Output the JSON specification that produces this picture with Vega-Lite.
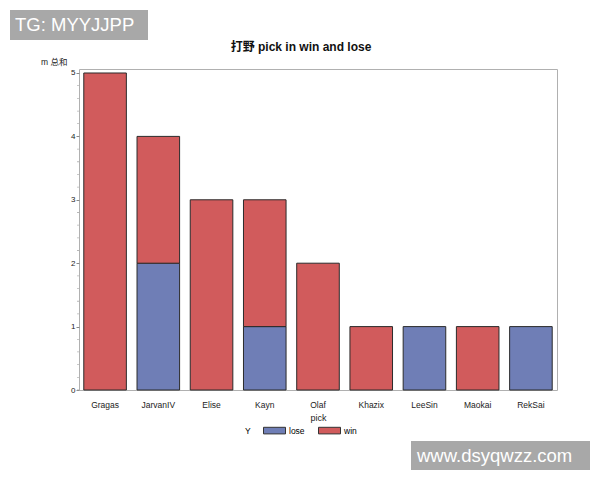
{
  "$schema": "https://vega.github.io/schema/vega-lite/v6.json",
  "autosize": "none",
  "width": 478,
  "height": 321,
  "padding": {"left": 79, "top": 69, "right": 43, "bottom": 90},
  "background": "white",
  "config": {
    "font": "Liberation Sans, Noto Sans CJK SC",
    "view": {"stroke": "#b0b0b0", "strokeWidth": 1},
    "axis": {"labelFont": "Liberation Sans, Noto Sans CJK SC", "titleFont": "Liberation Sans, Noto Sans CJK SC", "labelColor": "#222", "titleColor": "#222", "titleFontWeight": "normal"}
  },
  "title": {
    "text": "打野 pick in win and lose",
    "font": "Liberation Sans, Noto Sans CJK SC",
    "fontSize": 12,
    "fontWeight": "bold",
    "color": "#111",
    "anchor": "middle",
    "dx": -17,
    "offset": -44
  },
  "layer": [
    {
      "data": {
        "values": [
          {"pick": "Gragas", "Y": "win", "m": 5},
          {"pick": "JarvanIV", "Y": "lose", "m": 2},
          {"pick": "JarvanIV", "Y": "win", "m": 2},
          {"pick": "Elise", "Y": "win", "m": 3},
          {"pick": "Kayn", "Y": "lose", "m": 1},
          {"pick": "Kayn", "Y": "win", "m": 2},
          {"pick": "Olaf", "Y": "win", "m": 2},
          {"pick": "Khazix", "Y": "win", "m": 1},
          {"pick": "LeeSin", "Y": "lose", "m": 1},
          {"pick": "Maokai", "Y": "win", "m": 1},
          {"pick": "RekSai", "Y": "lose", "m": 1}
        ]
      },
      "mark": {"type": "bar", "stroke": "#2b2b2b", "strokeWidth": 1},
      "encoding": {
        "x": {
          "field": "pick",
          "type": "nominal",
          "sort": ["Gragas", "JarvanIV", "Elise", "Kayn", "Olaf", "Khazix", "LeeSin", "Maokai", "RekSai"],
          "scale": {"paddingInner": 0.2, "paddingOuter": 0.09},
          "axis": {
            "title": "pick",
            "titleFontSize": 9,
            "titlePadding": 5,
            "labelAngle": 0,
            "labelFontSize": 8.5,
            "labelPadding": 10,
            "ticks": false,
            "domain": false
          }
        },
        "y": {
          "field": "m",
          "type": "quantitative",
          "aggregate": "sum",
          "stack": "zero",
          "scale": {"domain": [0, 5.063], "nice": false, "zero": true},
          "axis": {
            "title": "m 总和",
            "titleAngle": 0,
            "titleAlign": "right",
            "titleBaseline": "middle",
            "titleX": -12,
            "titleY": -8,
            "titleFontSize": 8.5,
            "values": [0, 1, 2, 3, 4, 5],
            "format": "d",
            "labelFontSize": 8,
            "labelPadding": 1,
            "tickSize": 3,
            "tickColor": "#888",
            "domain": false,
            "grid": false
          }
        },
        "order": {"field": "Y", "sort": "ascending"},
        "color": {
          "field": "Y",
          "type": "nominal",
          "scale": {"domain": ["lose", "win"], "range": ["#6f7eb6", "#d15b5c"]},
          "legend": {
            "title": "Y",
            "orient": "none",
            "direction": "horizontal",
            "legendX": 166,
            "legendY": 350,
            "titleOrient": "left",
            "titleAnchor": "middle",
            "titleBaseline": "top",
            "titleFontSize": 8.5,
            "titleFontWeight": "normal",
            "titlePadding": 12,
            "labelFontSize": 8.5,
            "symbolType": "M-1,-0.3H1V0.3H-1Z",
            "symbolSize": 484,
            "symbolStrokeColor": "#333",
            "symbolStrokeWidth": 1,
            "columnPadding": 11,
            "labelOffset": 3
          }
        }
      }
    },
    {
      "data": {"values": [{"v": 0}, {"v": 0.2}, {"v": 0.4}, {"v": 0.6}, {"v": 0.8}, {"v": 1.2}, {"v": 1.4}, {"v": 1.6}, {"v": 1.8}, {"v": 2.2}, {"v": 2.4}, {"v": 2.6}, {"v": 2.8}, {"v": 3.2}, {"v": 3.4}, {"v": 3.6}, {"v": 3.8}, {"v": 4.2}, {"v": 4.4}, {"v": 4.6}, {"v": 4.8}]},
      "mark": {"type": "tick", "orient": "horizontal", "size": 2, "color": "#999", "thickness": 0.8, "xOffset": -1},
      "encoding": {
        "y": {"field": "v", "type": "quantitative"},
        "x": {"value": 0}
      }
    },
    {
      "data": {"values": [{"label": "TG: MYYJJPP"}]},
      "mark": {"type": "rect", "color": "#a8a8a8"},
      "encoding": {"x": {"value": -69}, "x2": {"value": 69}, "y": {"value": -59}, "y2": {"value": -29}}
    },
    {
      "data": {"values": [{"label": "TG: MYYJJPP"}]},
      "mark": {"type": "text", "color": "white", "fontSize": 18.5, "font": "Liberation Sans", "align": "left", "baseline": "middle"},
      "encoding": {"text": {"field": "label"}, "x": {"value": -64}, "y": {"value": -44}}
    },
    {
      "data": {"values": [{"label": "www.dsyqwzz.com"}]},
      "mark": {"type": "rect", "color": "#a8a8a8"},
      "encoding": {"x": {"value": 332}, "x2": {"value": 511}, "y": {"value": 372}, "y2": {"value": 401}}
    },
    {
      "data": {"values": [{"label": "www.dsyqwzz.com"}]},
      "mark": {"type": "text", "color": "white", "fontSize": 18.5, "font": "Liberation Sans", "align": "left", "baseline": "middle"},
      "encoding": {"text": {"field": "label"}, "x": {"value": 338}, "y": {"value": 386.5}}
    }
  ]
}
